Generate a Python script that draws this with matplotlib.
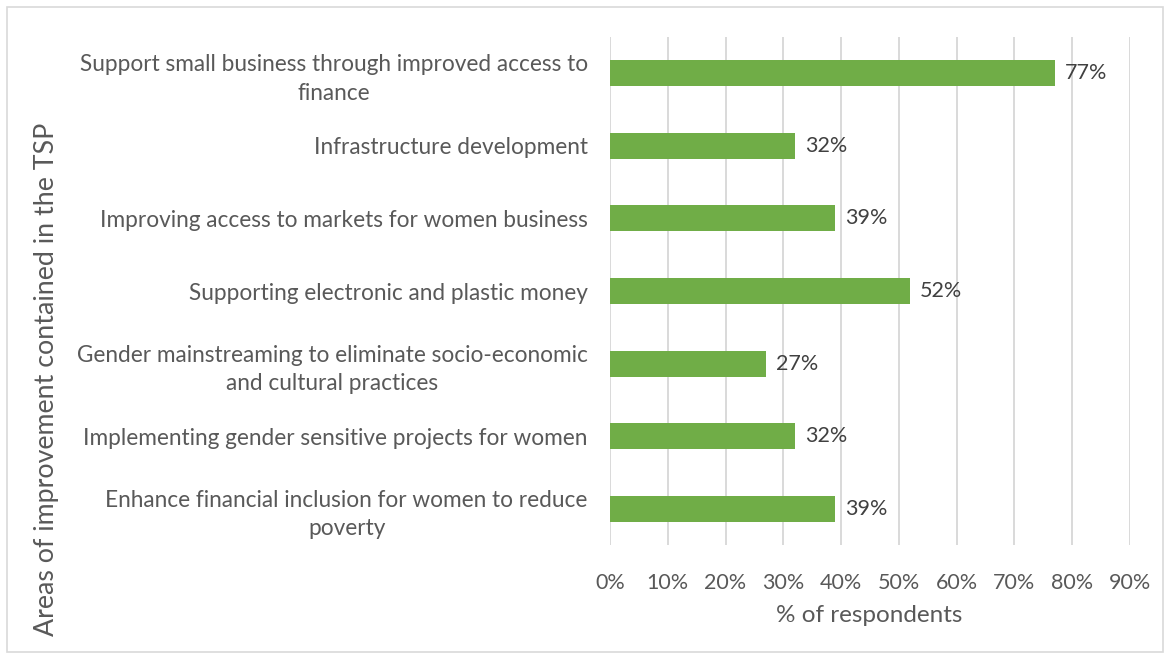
import matplotlib
matplotlib.use("Agg")
import matplotlib.pyplot as plt
from matplotlib.patches import Rectangle
from matplotlib.ticker import MultipleLocator, PercentFormatter

# ── data ─────────────────────────────────────────────
areas = [
    "Support small business through improved access to\nfinance",
    "Infrastructure development",
    "Improving access to markets for women business",
    "Supporting electronic and plastic money",
    "Gender mainstreaming to eliminate socio-economic\nand cultural practices",
    "Implementing gender sensitive projects for women",
    "Enhance financial inclusion for women to reduce\npoverty",
]
share = [77, 32, 39, 52, 27, 32, 39]

GREEN = "#70AD47"
TEXT = "#595959"
GRID = "#D9D9D9"

plt.rcParams["font.family"] = ["Lato", "DejaVu Sans"]

fig = plt.figure(figsize=(11.69, 6.59), dpi=100)
ax = fig.add_axes([610 / 1169, 1 - 545 / 659, 520 / 1169, 508 / 659])

ypos = range(len(areas))
ax.barh(ypos, share, height=0.36, color=GREEN, zorder=3)
ax.set_ylim(len(areas) - 0.5, -0.5)
ax.set_xlim(0, 90)

for y, v in zip(ypos, share):
    ax.text(v + 1.7, y, f"{v}%", va="center", ha="left",
            fontsize=15.5, color="#404040", zorder=4)

ax.xaxis.set_major_locator(MultipleLocator(10))
ax.xaxis.set_major_formatter(PercentFormatter(decimals=0))
ax.grid(axis="x", color=GRID, lw=1.4, zorder=0)
for s in ax.spines.values():
    s.set_visible(False)
ax.tick_params(axis="both", length=0, colors=TEXT, labelsize=15.5)
ax.tick_params(axis="x", pad=20)
ax.tick_params(axis="y", pad=16, labelsize=16.3)

ax.set_yticks(list(ypos))
ax.set_yticklabels(areas)
for lbl in ax.get_yticklabels():
    lbl.set_multialignment("center")
    lbl.set_linespacing(1.45)

fig.text(869 / 1169, 1 - 615 / 659, "% of respondents", ha="center", va="center",
         fontsize=17.5, color=TEXT)
fig.text(47 / 1169, 1 - 379 / 659, "Areas of improvement contained in the TSP",
         rotation=90, ha="center", va="center", fontsize=19.3, color=TEXT)

# light frame round the chart
fig.patches.append(Rectangle((7 / 1169, 1 - 652 / 659), 1156 / 1169, 645 / 659,
                             transform=fig.transFigure, fill=False,
                             edgecolor="#D9D9D9", lw=1.2))

fig.savefig("out.png", dpi=100, facecolor="white")
